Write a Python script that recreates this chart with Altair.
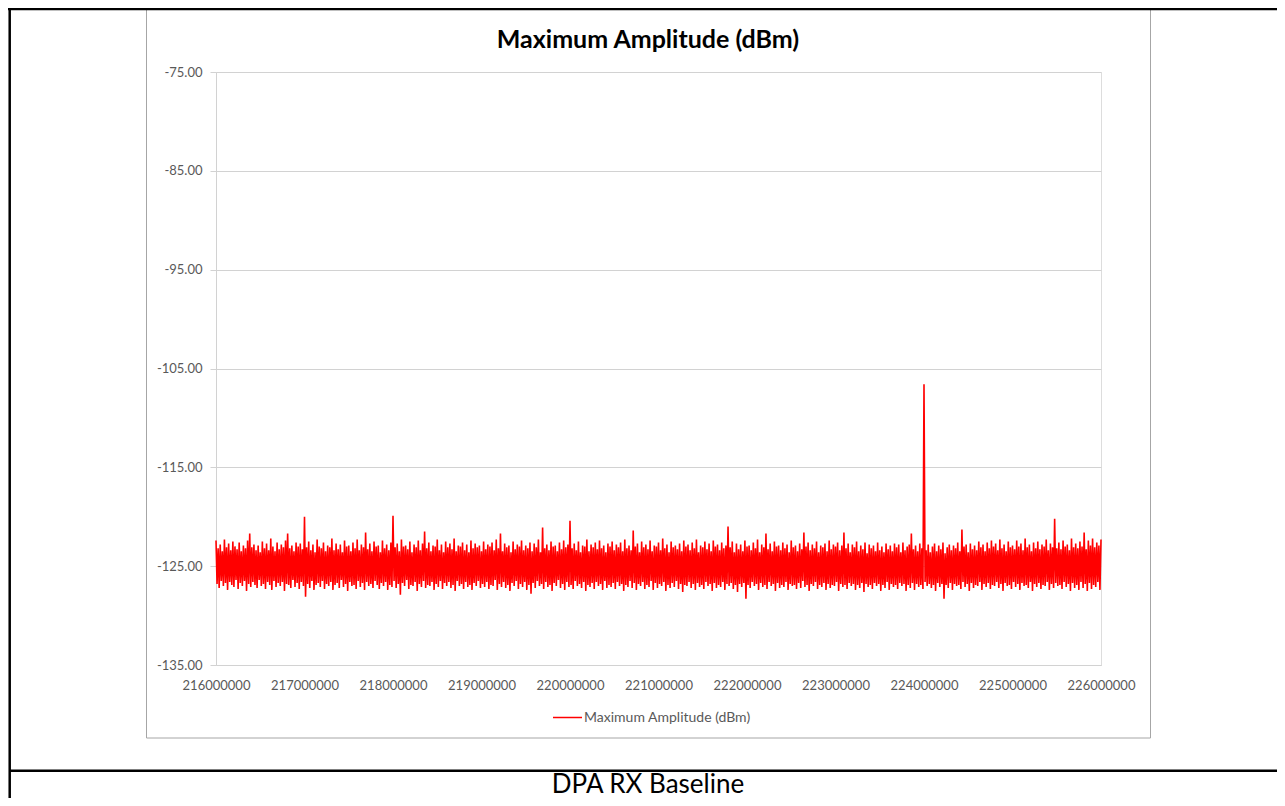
import altair as alt
import pandas as pd

chart_title = "Maximum Amplitude (dBm)"
series_name = "Maximum Amplitude (dBm)"
caption = "DPA RX Baseline"

freq_start = 216000000
freq_stop = 226000000
x_ticks = [216000000, 217000000, 218000000, 219000000, 220000000, 221000000,
           222000000, 223000000, 224000000, 225000000, 226000000]
y_ticks = [-135, -125, -115, -105, -95, -85, -75]

# upper swings of the trace (even samples)
upper = [
    -122.4, -123.2, -122.8, -123.5, -122.3, -123.1, -122.7, -123.4, -122.5, -123.0,
    -123.3, -122.6, -123.5, -122.9, -123.2, -122.4, -121.7, -123.1, -122.8, -123.4,
    -122.9, -123.6, -122.5, -123.2, -122.7, -123.4, -122.2, -123.0, -123.5, -122.6,
    -123.3, -122.8, -123.1, -122.4, -121.7, -123.2, -122.9, -123.5, -122.6, -123.0,
    -122.7, -123.3, -120.0, -123.1, -122.5, -123.4, -122.8, -123.6, -122.3, -123.0,
    -123.2, -122.6, -123.5, -122.9, -123.1, -122.2, -123.4, -122.7, -123.3, -122.8,
    -123.6, -122.4, -123.0, -122.9, -123.5, -122.6, -123.2, -122.3, -123.4, -122.8,
    -123.1, -121.6, -123.3, -122.7, -123.5, -122.5, -123.0, -122.9, -123.6, -122.4,
    -123.2, -122.8, -123.4, -122.6, -119.9, -123.1, -122.7, -123.5, -122.3, -123.0,
    -122.9, -123.3, -122.5, -123.6, -122.8, -123.1, -122.4, -123.4, -122.7, -121.5,
    -123.2, -122.6, -123.5, -122.9, -123.0, -122.3, -123.4, -122.8, -123.6, -122.5,
    -123.1, -122.7, -123.3, -122.2, -123.5, -122.9, -123.0, -122.6, -123.4, -122.8,
    -123.6, -122.4, -123.2, -122.7, -123.1, -122.9, -123.5, -122.5, -123.3, -122.8,
    -123.0, -122.6, -123.4, -122.3, -123.2, -121.7, -123.5, -122.7, -123.1, -122.9,
    -123.6, -122.5, -123.3, -122.8, -123.0, -122.4, -123.4, -122.9, -123.2, -122.6,
    -123.5, -122.7, -123.1, -122.3, -123.6, -121.1, -123.2, -122.8, -123.4, -122.5,
    -123.0, -122.9, -123.5, -122.6, -123.3, -122.4, -123.1, -122.8, -120.4, -123.2,
    -122.7, -123.4, -122.5, -123.6, -122.9, -123.0, -122.3, -123.5, -122.8, -123.1,
    -122.6, -123.3, -122.4, -123.2, -122.9, -123.6, -122.7, -123.0, -122.5, -123.4,
    -122.8, -123.1, -122.6, -123.5, -122.3, -123.2, -122.9, -123.4, -121.4, -123.0,
    -122.7, -123.6, -122.5, -123.1, -122.8, -123.3, -122.4, -123.5, -122.9, -123.0,
    -122.6, -123.4, -122.2, -123.2, -122.8, -123.6, -122.5, -123.1, -122.9, -123.3,
    -122.7, -123.5, -122.4, -123.0, -122.8, -123.4, -122.6, -123.2, -122.3, -123.6,
    -122.9, -123.1, -122.5, -123.3, -122.7, -123.5, -122.4, -123.0, -122.8, -123.4,
    -122.6, -123.2, -122.9, -121.0, -123.1, -122.5, -123.6, -122.7, -123.3, -122.8,
    -123.5, -122.4, -123.0, -122.9, -123.4, -122.6, -123.2, -122.3, -123.6, -122.8,
    -123.1, -121.7, -123.3, -122.7, -123.5, -122.5, -123.0, -122.9, -123.4, -122.6,
    -123.2, -122.8, -123.6, -122.4, -123.1, -122.9, -123.5, -122.7, -123.3, -121.6,
    -123.0, -122.6, -123.4, -122.8, -123.2, -122.5, -123.6, -122.9, -123.1, -122.7,
    -123.5, -122.4, -123.3, -122.8, -123.0, -122.6, -123.4, -122.9, -121.6, -123.2,
    -122.7, -123.6, -122.8, -123.1, -122.5, -123.5, -122.9, -123.3, -122.6, -123.7,
    -122.8, -123.2, -122.9, -123.5, -122.6, -123.4, -123.0, -123.6, -122.7, -123.3,
    -122.9, -123.5, -122.7, -123.1, -122.8, -123.6, -122.6, -123.4, -123.0, -122.8,
    -121.7, -123.3, -122.9, -123.5, -122.7, -123.2, -106.6, -123.4, -122.8, -123.6,
    -123.0, -122.7, -123.5, -122.9, -123.3, -122.6, -123.7, -123.1, -122.8, -123.4,
    -122.9, -123.2, -122.6, -123.5, -121.3, -123.0, -122.8, -123.6, -122.7, -123.3,
    -122.9, -123.4, -122.5, -123.1, -122.8, -123.5, -122.6, -123.2, -122.4, -123.0,
    -122.7, -123.4, -122.3, -123.2, -122.8, -123.5, -122.5, -123.1, -122.9, -123.3,
    -122.4, -123.0, -122.7, -123.4, -122.2, -123.1, -122.8, -123.5, -122.6, -123.2,
    -122.5, -123.3, -122.8, -123.0, -122.3, -123.4, -122.7, -123.1, -120.2, -123.2,
    -122.6, -123.3, -122.4, -123.0, -122.8, -123.4, -122.2, -123.1, -122.7, -123.2,
    -122.5, -123.0, -121.6, -123.3, -122.4, -122.9, -122.2, -123.1, -122.6, -122.9,
    -122.3,
]

# lower swings of the trace (odd samples)
lower = [
    -126.8, -127.2, -126.5, -127.0, -126.7, -127.4, -126.6, -126.9, -127.1, -126.4,
    -127.3, -126.7, -127.0, -126.5, -127.5, -126.8, -127.1, -126.6, -126.9, -127.2,
    -126.4, -127.0, -126.8, -127.3, -126.6, -126.9, -127.4, -126.5, -127.1, -126.7,
    -127.0, -126.6, -127.5, -126.8, -126.9, -127.2, -126.4, -127.1, -126.7, -127.3,
    -126.6, -127.0, -128.1, -126.8, -127.2, -126.5, -127.4, -126.9, -126.7, -127.1,
    -126.5, -127.3, -126.8, -127.0, -126.6, -127.4, -126.9, -126.7, -127.2, -126.4,
    -127.1, -126.8, -127.5, -126.6, -127.0, -126.9, -127.3, -126.5, -127.1, -126.7,
    -127.4, -126.6, -127.0, -126.8, -127.2, -126.5, -126.9, -127.3, -126.7, -127.0,
    -126.6, -127.4, -126.9, -127.1, -126.5, -127.2, -126.8, -127.9, -126.7, -127.0,
    -126.4, -127.3, -126.9, -127.0, -126.6, -127.5, -126.8, -127.1, -126.5, -127.2,
    -126.9, -127.0, -126.6, -127.4, -126.8, -127.1, -126.5, -127.3, -126.7, -127.0,
    -126.6, -127.2, -126.9, -127.5, -126.5, -127.0, -126.8, -127.3, -126.6, -127.1,
    -126.9, -127.4, -126.7, -127.0, -126.5, -127.2, -126.8, -127.1, -126.6, -127.3,
    -126.9, -127.0, -126.4, -127.4, -126.8, -127.1, -126.6, -127.2, -126.9, -127.5,
    -126.7, -127.0, -126.5, -127.3, -126.8, -127.1, -126.6, -127.4, -126.9, -127.8,
    -126.7, -127.2, -126.5, -127.0, -126.8, -127.3, -126.6, -127.1, -126.9, -127.5,
    -126.7, -127.0, -126.4, -127.2, -126.8, -127.4, -126.6, -127.1, -126.9, -127.3,
    -126.5, -127.0, -126.8, -127.2, -126.6, -127.5, -126.9, -127.1, -126.7, -127.3,
    -126.6, -127.0, -126.8, -127.4, -126.5, -127.2, -126.9, -127.1, -126.7, -127.3,
    -126.6, -127.0, -126.8, -127.5, -126.9, -127.1, -126.5, -127.2, -126.7, -127.4,
    -126.8, -127.0, -126.6, -127.3, -126.9, -127.1, -126.5, -127.4, -126.7, -127.2,
    -126.8, -127.0, -126.6, -127.5, -126.9, -127.2, -126.7, -127.1, -126.5, -127.3,
    -126.8, -127.6, -126.9, -127.0, -126.6, -127.2, -126.8, -127.4, -126.7, -127.1,
    -126.9, -127.3, -126.6, -127.0, -126.8, -127.5, -126.7, -127.2, -126.9, -127.1,
    -126.6, -127.4, -126.8, -127.0, -126.7, -127.3, -126.9, -127.6, -126.8, -127.1,
    -126.7, -128.3, -126.9, -127.2, -126.6, -127.0, -126.8, -127.4, -126.7, -127.1,
    -126.9, -127.3, -126.6, -127.0, -126.8, -127.5, -126.7, -127.2, -126.9, -127.1,
    -126.6, -127.4, -126.8, -127.0, -126.9, -127.3, -126.7, -127.2, -126.5, -127.1,
    -126.9, -127.5, -126.8, -127.0, -126.6, -127.3, -126.9, -127.1, -126.7, -127.4,
    -126.8, -127.2, -126.9, -127.0, -126.6, -127.5, -126.8, -127.1, -126.9, -127.3,
    -126.7, -127.0, -126.8, -127.4, -126.9, -127.2, -126.7, -127.6, -126.8, -127.1,
    -126.9, -127.3, -126.7, -127.0, -126.8, -127.5, -126.9, -127.2, -126.6, -127.4,
    -126.8, -127.1, -126.9, -127.3, -126.7, -127.0, -126.8, -127.5, -126.9, -127.2,
    -126.7, -127.4, -126.8, -127.1, -126.9, -127.3, -126.6, -127.0, -126.8, -127.2,
    -126.9, -127.5, -126.7, -127.1, -126.8, -128.3, -126.9, -127.2, -126.7, -127.4,
    -126.8, -127.0, -126.9, -127.3, -126.6, -127.1, -126.8, -127.5, -126.7, -127.2,
    -126.9, -127.0, -126.6, -127.4, -126.8, -127.1, -126.7, -127.3, -126.9, -127.0,
    -126.6, -127.2, -126.8, -127.5, -126.7, -127.0, -126.9, -127.3, -126.6, -127.1,
    -126.8, -127.4, -126.7, -127.0, -126.9, -127.2, -126.6, -127.5, -126.8, -127.1,
    -126.7, -127.3, -126.9, -127.0, -126.6, -127.4, -126.8, -127.2, -126.7, -127.0,
    -126.9, -127.3, -126.6, -127.1, -126.8, -127.5, -126.7, -127.2, -126.9, -127.4,
    -126.6, -127.2, -126.8, -127.5, -126.7, -127.3, -126.9, -127.1, -126.6, -127.4,
]

n_points = len(upper) + len(lower)
step = (freq_stop - freq_start) / (n_points - 1)
rows = []
for k in range(n_points):
    amp = upper[k // 2] if k % 2 == 0 else lower[k // 2]
    rows.append({"freq": freq_start + k * step, "amp": amp,
                 "series": series_name, "order": k})
df = pd.DataFrame(rows)

one = pd.DataFrame({"k": [0]})

FONT = "Lato"
GRID = "#d2d2d2"
LABEL = "#595959"

# chart frame (Excel chart area)
frame = alt.Chart(one).mark_rect(fillOpacity=0, stroke="#a6a6a6", strokeWidth=1).encode(
    x=alt.value(-69.5), x2=alt.value(934.5), y=alt.value(-63), y2=alt.value(666)
)

title_text = alt.Chart(one).mark_text(
    text=chart_title, font=FONT, fontSize=25, fontWeight="bold", color="black",
    align="center", baseline="alphabetic"
).encode(x=alt.value(432), y=alt.value(-24))

line = alt.Chart(df).mark_line(strokeWidth=1.6, interpolate="linear").encode(
    x=alt.X("freq:Q",
            scale=alt.Scale(domain=[freq_start, freq_stop], nice=False, zero=False),
            axis=alt.Axis(values=x_ticks, format="d", title=None, grid=False,
                          ticks=False, domainColor=GRID, domainWidth=1,
                          labelFont=FONT, labelFontSize=13, labelColor=LABEL,
                          labelPadding=14, labelFlush=False, labelOverlap=False)),
    y=alt.Y("amp:Q",
            scale=alt.Scale(domain=[-135, -75], nice=False, zero=False),
            axis=alt.Axis(values=y_ticks, title=None, grid=True,
                          labelExpr="replace(format(datum.value, '.2f'), '\u2212', '-')",
                          gridColor=GRID, gridWidth=1, tickColor=GRID, tickSize=6,
                          domainColor=GRID, labelFont=FONT, labelFontSize=13,
                          labelColor=LABEL, labelPadding=8)),
    color=alt.Color("series:N", scale=alt.Scale(range=["#ff0000"]),
                    legend=alt.Legend(orient="none", legendX=336, legendY=630,
                                      title=None, symbolType="stroke",
                                      symbolSize=841, symbolStrokeWidth=1.5,
                                      labelFont=FONT, labelFontSize=14,
                                      labelLimit=400,
                                      labelColor=LABEL, labelOffset=1, padding=0)),
    order="order:Q",
)

# document table borders around the chart
top_rule = alt.Chart(one).mark_rule(color="black", strokeWidth=2.5).encode(
    x=alt.value(-208), x2=alt.value(1061), y=alt.value(-63)
)
left_rule = alt.Chart(one).mark_rule(color="black", strokeWidth=2.5).encode(
    x=alt.value(-206.3), y=alt.value(-64), y2=alt.value(730)
)
row_rule = alt.Chart(one).mark_rule(color="black", strokeWidth=2.5).encode(
    x=alt.value(-206.3), x2=alt.value(1061), y=alt.value(698.8)
)
caption_text = alt.Chart(one).mark_text(
    text=caption, font=FONT, fontSize=26, color="black", align="center",
    baseline="alphabetic"
).encode(x=alt.value(432), y=alt.value(721))

chart = alt.layer(frame, title_text, line, top_rule, left_rule, row_rule,
                  caption_text).properties(
    width=885,
    height=593,
    autosize=alt.AutoSizeParams(type="none"),
    padding={"left": 208, "top": 64, "right": 176, "bottom": 133},
).configure_view(stroke=None).configure(background="white")

chart.save("out.html", embed_options={"renderer": "svg", "actions": False})
